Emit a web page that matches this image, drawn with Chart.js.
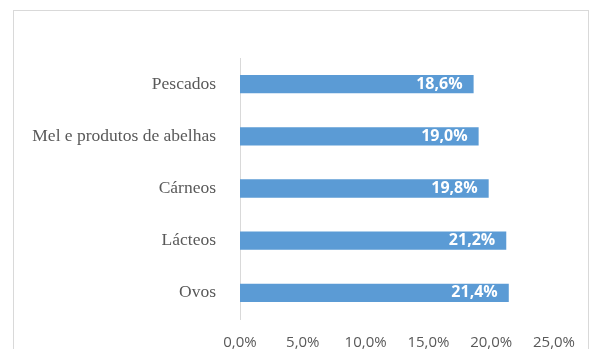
<!DOCTYPE html>
<html>
<head>
  <meta charset="utf-8">
  <title>Bar chart</title>
  <script src="https://cdn.jsdelivr.net/npm/chart.js"></script>
  <style>
    body { margin: 0; background: #fff; }
  </style>
</head>
<body>
  <canvas id="myChart" width="590" height="349"></canvas>

  <script>
    const categories = ['Pescados', 'Mel e produtos de abelhas', 'Cárneos', 'Lácteos', 'Ovos'];
    const values = [18.6, 19.0, 19.8, 21.2, 21.4];
    const xTicks = [0, 5, 10, 15, 20, 25];

    const pct = v => v.toFixed(1).replace('.', ',') + '%';

    // outer frame like the spreadsheet chart area
    const frame = {
      id: 'frame',
      beforeDraw(chart) {
        const ctx = chart.ctx;
        ctx.save();
        ctx.fillStyle = '#fff';
        ctx.fillRect(0, 0, chart.width, chart.height);
        ctx.strokeStyle = '#d9d9d9';
        ctx.lineWidth = 1;
        ctx.strokeRect(13.5, 10.5, 575, 400);
        ctx.restore();
      }
    };

    // value labels inside the end of each bar
    const barLabels = {
      id: 'barLabels',
      afterDatasetsDraw(chart) {
        const ctx = chart.ctx;
        const meta = chart.getDatasetMeta(0);
        ctx.save();
        ctx.fillStyle = '#fff';
        ctx.font = 'bold 16px "Open Sans"';
        ctx.textAlign = 'right';
        ctx.textBaseline = 'middle';
        meta.data.forEach((bar, i) => {
          ctx.fillText(pct(values[i]), bar.x - 11, bar.y);
        });
        ctx.restore();
      }
    };

    const ctx = document.getElementById('myChart').getContext('2d');
    const myChart = new Chart(ctx, {
      type: 'bar',
      data: {
        labels: categories,
        datasets: [{
          data: values,
          backgroundColor: '#5b9bd5',
          categoryPercentage: 1,
          barPercentage: 0.35
        }]
      },
      options: {
        indexAxis: 'y',
        responsive: false,
        animation: false,
        layout: { padding: { top: 58, right: 33, left: 0, bottom: 0 } },
        plugins: { legend: { display: false }, tooltip: { enabled: false } },
        scales: {
          x: {
            min: 0,
            max: 25,
            afterBuildTicks: s => { s.ticks = xTicks.map(v => ({ value: v })); },
            afterFit: s => { s.height = 30; },
            grid: { display: false, drawTicks: false },
            border: { display: false },
            ticks: {
              padding: 15,
              color: '#595959',
              font: { family: '"Open Sans"', size: 15 },
              callback: v => pct(v)
            }
          },
          y: {
            afterFit: s => { s.width = 240; },
            grid: { display: false },
            border: { display: true, color: '#d9d9d9', width: 1 },
            ticks: {
              padding: 16,
              color: '#595959',
              font: { family: '"Liberation Serif"', size: 17.5 }
            }
          }
        }
      },
      plugins: [frame, barLabels]
    });
  </script>
</body>
</html>
